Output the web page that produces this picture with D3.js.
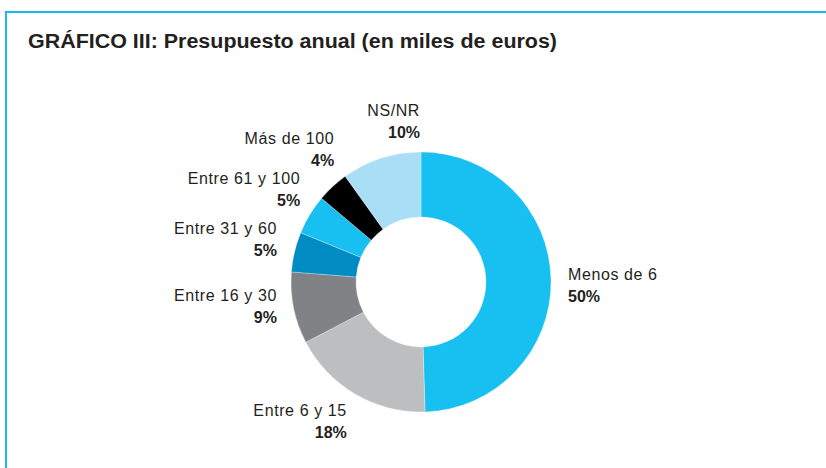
<!DOCTYPE html>
<html>
<head>
<meta charset="utf-8">
<script src="https://cdn.jsdelivr.net/npm/d3@7"></script>
<style>
  body { margin: 0; background: #fff; }
  svg { display: block; }
</style>
</head>
<body>
<div id="chart"></div>
<script>
// data
const categories = ['Menos de 6', 'Entre 6 y 15', 'Entre 16 y 30', 'Entre 31 y 60', 'Entre 61 y 100', 'Más de 100', 'NS/NR'];
const values = [50, 18, 9, 5, 5, 4, 10];
const colors = ['#17c0f1', '#bcbec0', '#808285', '#008cc3', '#17c0f1', '#000000', '#a8def6'];

// label nudges (layout only)
const labelNudge = [[0, 5], [0, 12], [0, -6], [-1, -9], [5, -17], [13, -25], [44, -21]];

const width = 826, height = 468;
const cx = 421, cy = 282;
const outerR = 130, innerR = 65, labelR = 147;

const svg = d3.select('#chart').append('svg')
  .attr('width', width)
  .attr('height', height);

// frame
svg.append('path')
  .attr('d', `M6,${height} V12 H${width}`)
  .attr('fill', 'none')
  .attr('stroke', '#1ab8ee')
  .attr('stroke-width', 2);

svg.append('text')
  .attr('x', 28)
  .attr('y', 48)
  .attr('font-family', '"Liberation Sans Narrow", "Arial Narrow", "Liberation Sans", sans-serif')
  .attr('font-weight', 'bold')
  .attr('font-size', 20)
  .attr('fill', '#231f20')
  .attr('textLength', 529)
  .attr('lengthAdjust', 'spacingAndGlyphs')
  .text('GRÁFICO III: Presupuesto anual (en miles de euros)');

const pie = d3.pie().sort(null).value((d) => d.value);
const arc = d3.arc().innerRadius(innerR).outerRadius(outerR);

const slices = pie(categories.map((c, i) => ({ name: c, value: values[i], color: colors[i] })));

const g = svg.append('g').attr('transform', `translate(${cx},${cy})`);

g.selectAll('path.slice')
  .data(slices)
  .enter()
  .append('path')
  .attr('class', 'slice')
  .attr('d', arc)
  .attr('fill', (d) => d.data.color)
  .attr('stroke', '#fff')
  .attr('stroke-width', 0.3);

const labels = g.selectAll('g.label')
  .data(slices)
  .enter()
  .append('g')
  .attr('class', 'label')
  .attr('transform', (d, i) => {
    const a = (d.startAngle + d.endAngle) / 2;
    const x = labelR * Math.sin(a) + labelNudge[i][0];
    const y = -labelR * Math.cos(a) + labelNudge[i][1];
    return `translate(${x},${y})`;
  })
  .attr('text-anchor', (d) => ((d.startAngle + d.endAngle) / 2 < Math.PI ? 'start' : 'end'))
  .attr('font-family', '"Liberation Sans", Arial, sans-serif')
  .attr('font-size', 16)
  .attr('fill', '#231f20');

labels.append('text')
  .attr('y', -5)
  .attr('letter-spacing', 0.6)
  .text((d) => d.data.name);

labels.append('text')
  .attr('y', 17)
  .attr('font-weight', 'bold')
  .text((d) => d.data.value + '%');
</script>
</body>
</html>
